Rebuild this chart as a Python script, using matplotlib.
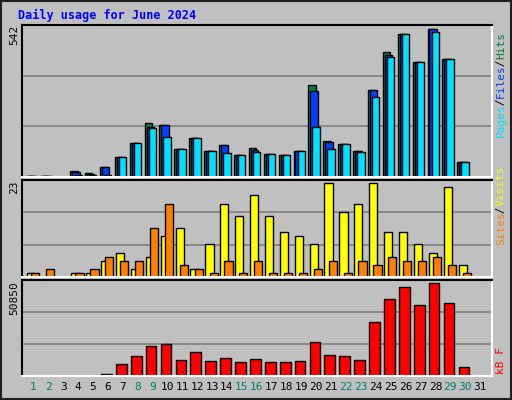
import numpy as np
import matplotlib.pyplot as plt
from matplotlib.patches import Rectangle

# dias del mes y valores
dias = np.arange(1, 32)
hits = [2, 2, 0, 21, 16, 36, 72, 124, 197, 190, 102, 142, 94, 116, 82, 105,
        86, 82, 94, 336, 131, 120, 94, 318, 458, 524, 421, 542, 432, 54, 0]
files = [2, 2, 0, 18, 12, 36, 72, 124, 183, 190, 102, 142, 94, 116, 82, 100,
         86, 82, 94, 315, 127, 120, 94, 318, 447, 524, 421, 542, 432, 54, 0]
pages = [2, 2, 0, 6, 6, 9, 72, 124, 179, 146, 102, 142, 94, 87, 82, 91,
         86, 82, 94, 182, 102, 120, 91, 292, 439, 524, 421, 531, 432, 54, 0]
visits = [1, 0, 0, 1, 1, 4, 6, 2, 5, 10, 12, 2, 8, 18, 15, 20,
          15, 11, 10, 8, 23, 16, 18, 23, 11, 11, 8, 6, 22, 3, 0]
sites = [1, 2, 0, 1, 2, 5, 4, 4, 12, 18, 3, 2, 1, 4, 1, 4,
         1, 1, 1, 2, 4, 1, 4, 3, 5, 4, 4, 5, 3, 1, 0]
kbytes = [250, 250, 0, 250, 250, 1113, 6681, 11135, 16145, 17259, 8908, 13362,
          8351, 10021, 7794, 9465, 7794, 7794, 8351, 18373, 11692, 11135, 8908,
          29508, 42313, 48437, 38972, 50850, 40086, 5011, 0]
fines = [1, 2, 8, 9, 15, 16, 22, 23, 29, 30]

gris = '#C0C0C0'
fuente = 'DejaVu Sans Mono'

fig = plt.figure(figsize=(5.12, 4.0), dpi=100)
fig.patch.set_facecolor(gris)
fig.patches.append(Rectangle((0.002, 0.002), 0.996, 0.996, transform=fig.transFigure,
                             fill=False, edgecolor='#202020', lw=1.5))

def panel(caja, ymax):
    ax = fig.add_axes(caja)
    ax.set_facecolor(gris)
    ax.set_xlim(0.24, 31.8)
    ax.set_ylim(0, ymax)
    for g in (ymax / 3, 2 * ymax / 3):
        ax.axhline(g, color='#808080', lw=1.2, zorder=0)
    ax.spines['top'].set_color('black')
    ax.spines['left'].set_color('black')
    ax.spines['bottom'].set_color('white')
    ax.spines['right'].set_color('white')
    for s in ax.spines.values():
        s.set_linewidth(1.5)
    ax.set_xticks([])
    ax.set_yticks([])
    return ax

def barras(ax, valores, desp, ancho, color):
    v = np.array(valores, dtype=float)
    m = v > 0
    ax.bar(dias[m] + desp, v[m], width=ancho, align='edge', color=color,
           edgecolor='black', linewidth=1)

ax1 = panel([0.043, 0.5575, 0.918, 0.38], 557)
barras(ax1, hits, -0.53, 0.5, '#008040')
barras(ax1, files, -0.40, 0.5, '#0040FF')
barras(ax1, pages, -0.26, 0.5, '#00E0FF')

ax2 = panel([0.043, 0.3075, 0.918, 0.2425], 23.8)
barras(ax2, visits, -0.45, 0.55, '#FFFF00')
barras(ax2, sites, -0.17, 0.55, '#FF8000')

ax3 = panel([0.043, 0.06, 0.918, 0.24], 52520)
barras(ax3, kbytes, -0.45, 0.72, '#FF0000')

for d in dias:
    ax3.text(d, -0.06, str(d), transform=ax3.get_xaxis_transform(), ha='center',
             va='top', fontsize=8, family=fuente,
             color='#008060' if d in fines else 'black')

fig.text(18 / 512, 1 - 15 / 400, 'Daily usage for June 2024', color='#0000FF',
         fontsize=8.5, fontweight='bold', family=fuente, va='center')
for y, txt in ((25, str(max(hits))), (181, str(max(visits))), (281, str(max(kbytes)))):
    fig.text(14 / 512, 1 - y / 400, txt, rotation=90, ha='center', va='top',
             fontsize=8, family=fuente)

rend = fig.canvas.get_renderer()

def etiqueta(y0, partes):
    # apila los trozos de texto de abajo hacia arriba
    y = 1 - y0 / 400
    for txt, col in partes:
        t = fig.text(501 / 512, y, txt, rotation=90, ha='center', va='bottom',
                     fontsize=8, family=fuente, color=col)
        n = len(txt)
        y += n * 4.9 / 400

etiqueta(137, [('Pages', '#00E0FF'), (' / ', 'black'), ('Files', '#0040FF'),
               (' / ', 'black'), ('Hits', '#008040')])
etiqueta(245, [('Sites', '#FF8000'), (' / ', 'black'), ('Visits', '#FFFF00')])
etiqueta(374, [('kB F', '#FF0000')])

fig.savefig('out.png', dpi=100, facecolor=gris)
